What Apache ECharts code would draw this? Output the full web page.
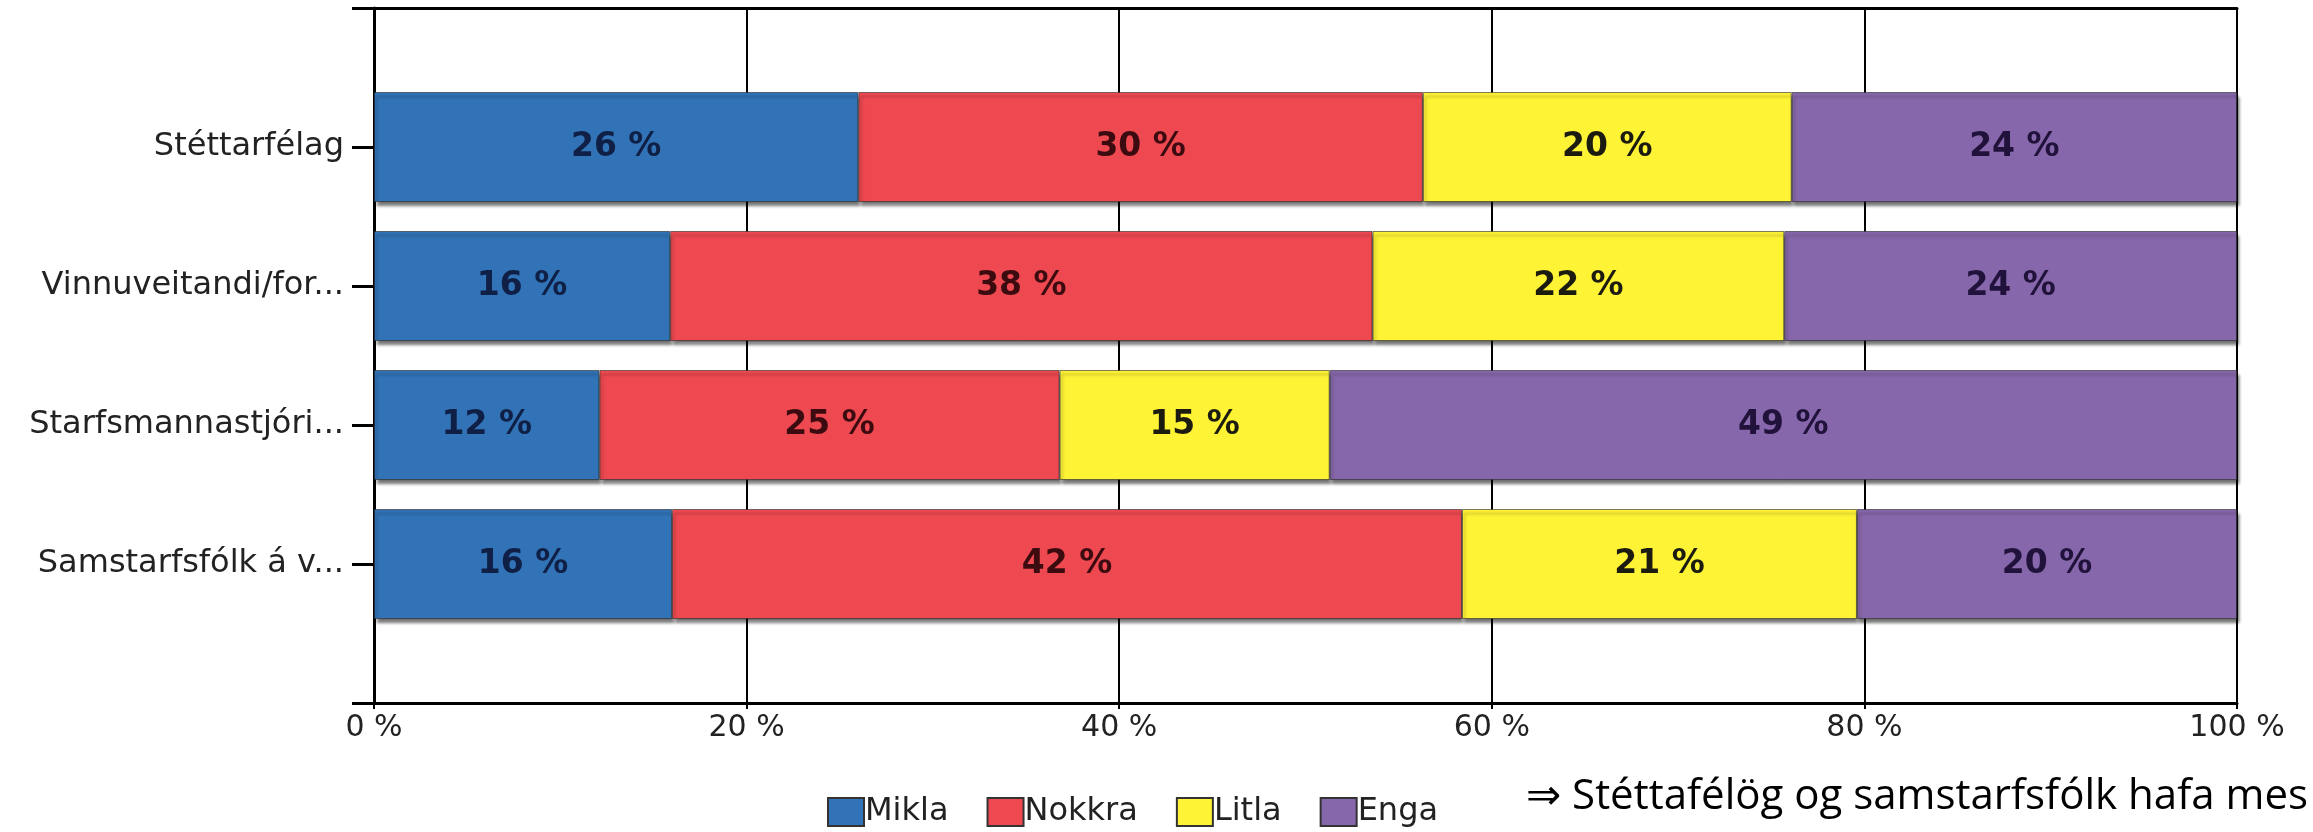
<!DOCTYPE html>
<html>
<head>
<meta charset="utf-8">
<script src="https://cdn.jsdelivr.net/npm/echarts@6/dist/echarts.min.js"></script>
<style>
html,body{margin:0;padding:0;background:#fff;}
#chart{width:2313px;height:832px;}
</style>
</head>
<body>
<div id="chart"></div>
<script>
// Categories, top to bottom as shown
const categories = ['Stéttarfélag', 'Vinnuveitandi/for...', 'Starfsmannastjóri...', 'Samstarfsfólk á v...'];
const seriesNames = ['Mikla', 'Nokkra', 'Litla', 'Enga'];
// Shares (%), same order as categories
const mikla  = [26.0, 15.9, 12.1, 16.0];
const nokkra = [30.3, 37.7, 24.7, 42.4];
const litla  = [19.8, 22.1, 14.5, 21.2];
const enga   = [23.9, 24.3, 48.7, 20.4];
const xTicks = [0, 20, 40, 60, 80, 100];
const caption = '\u21D2 Stéttafélög og samstarfsfólk hafa mes';

const colors = ['#3173b6', '#ee4950', '#fff335', '#8767ab'];
const labelColors = ['#0f1f45', '#3b0b10', '#1b1b10', '#20123a'];

// Category axis runs bottom->top in ECharts; pad with empty slots at both ends
const axisCats = [''].concat(categories.slice().reverse()).concat(['']);
function pad(arr) { return [null].concat(arr.slice().reverse()).concat([null]); }

const allData = [mikla, nokkra, litla, enga];
const series = allData.map((d, i) => ({
  name: seriesNames[i],
  type: 'bar',
  stack: 'total',
  barWidth: 110,
  data: pad(d),
  itemStyle: {
    color: colors[i],
    borderColor: 'rgba(40,40,40,0.6)',
    borderWidth: 1,
    shadowColor: 'rgba(0,0,0,0.55)',
    shadowBlur: 3,
    shadowOffsetX: 2,
    shadowOffsetY: 4
  },
  label: {
    show: true,
    position: 'inside',
    formatter: p => (p.value == null ? '' : Math.round(p.value) + ' %'),
    fontFamily: 'DejaVu Sans',
    fontWeight: 'bold',
    fontSize: 33,
    color: labelColors[i]
  },
  emphasis: { disabled: true }
}));

const chart = echarts.init(document.getElementById('chart'), null, { renderer: 'canvas' });
chart.setOption({
  animation: false,
  backgroundColor: '#ffffff',
  grid: { left: 374, right: 76, top: 8, bottom: 129, containLabel: false, outerBoundsMode: 'none' },
  legend: {
    data: seriesNames,
    left: 822,
    top: 791,
    itemWidth: 36,
    itemHeight: 28,
    itemGap: 38,
    icon: 'rect',
    itemStyle: { borderColor: '#333', borderWidth: 2, shadowBlur: 0, shadowOffsetX: 0, shadowOffsetY: 0 },
    textStyle: { fontFamily: 'DejaVu Sans', fontSize: 32, color: '#222', padding: [0, 0, 0, -4] }
  },
  xAxis: [{
    type: 'value',
    min: xTicks[0],
    max: xTicks[xTicks.length - 1],
    interval: xTicks[1] - xTicks[0],
    position: 'bottom',
    axisLine: { show: true, lineStyle: { color: '#000', width: 3 } },
    axisTick: { show: true, length: 6, lineStyle: { color: '#000', width: 2 } },
    axisLabel: { formatter: '{value} %', fontFamily: 'DejaVu Sans', fontSize: 30, color: '#222', margin: 10 },
    splitLine: { show: true, lineStyle: { color: '#000', width: 2 } }
  }, {
    type: 'value',
    min: xTicks[0],
    max: xTicks[xTicks.length - 1],
    interval: xTicks[1] - xTicks[0],
    position: 'top',
    axisLine: { show: true, onZero: false, lineStyle: { color: '#000', width: 3 } },
    axisTick: { show: false },
    axisLabel: { show: false },
    splitLine: { show: false }
  }],
  yAxis: {
    type: 'category',
    data: axisCats,
    boundaryGap: false,
    axisLine: { show: true, lineStyle: { color: '#000', width: 3 } },
    axisTick: { show: true, length: 22, lineStyle: { color: '#000', width: 3 } },
    axisLabel: { fontFamily: 'DejaVu Sans', fontSize: 32, color: '#222', margin: 30 },
    splitLine: { show: false }
  },
  graphic: [{
    type: 'text',
    left: 1526,
    top: 776,
    style: {
      text: caption,
      font: '42px "Open Sans", "DejaVu Sans", sans-serif',
      fill: '#000'
    }
  }],
  series: series
});
</script>
</body>
</html>
